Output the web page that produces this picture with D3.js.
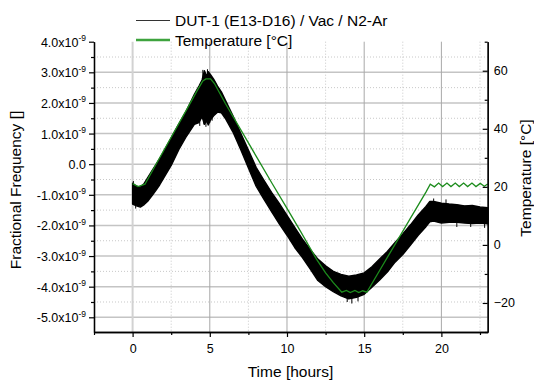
<!DOCTYPE html>
<html>
<head>
<meta charset="utf-8">
<script src="https://cdn.jsdelivr.net/npm/d3@7"></script>
<style>
  html, body { margin: 0; padding: 0; background: #fff; }
  svg { display: block; font-family: "Liberation Sans", Arial, sans-serif; }
</style>
</head>
<body>
<svg id="chart" width="534" height="386"></svg>
<script>
// ---------------- DATA ----------------
// Fractional frequency band (values in units of 1e-9): upper / lower envelope of the noisy trace
const freqTime = [0.0, 0.25, 0.5, 0.75, 1.0, 1.25, 1.5, 1.75, 2.0, 2.5, 3.0, 3.5, 4.0, 4.3, 4.5, 4.65, 4.8, 4.9, 5.05, 5.25, 5.5, 5.75, 6.0, 6.5, 7.0, 7.5, 8.0, 8.5, 9.0, 9.5, 10.0, 10.5, 11.0, 11.5, 12.0, 12.5, 13.0, 13.5, 14.0, 14.5, 15.0, 15.5, 16.0, 16.5, 17.0, 17.5, 18.0, 18.5, 19.0, 19.25, 19.5, 20.0, 20.5, 21.0, 21.5, 22.0, 22.5, 23.0];
const freqHigh = [-0.62, -0.72, -0.75, -0.63, -0.42, -0.22, -0.02, 0.18, 0.40, 0.86, 1.32, 1.76, 2.28, 2.55, 2.75, 3.05, 2.88, 3.02, 2.92, 2.78, 2.55, 2.36, 2.10, 1.58, 1.02, 0.46, -0.10, -0.52, -0.92, -1.28, -1.67, -2.06, -2.45, -2.78, -3.10, -3.32, -3.50, -3.60, -3.66, -3.62, -3.55, -3.35, -3.10, -2.85, -2.56, -2.28, -1.98, -1.66, -1.38, -1.22, -1.22, -1.27, -1.30, -1.32, -1.36, -1.35, -1.40, -1.42];
const freqLow  = [-1.30, -1.36, -1.40, -1.32, -1.20, -1.03, -0.86, -0.68, -0.46, -0.04, 0.48, 0.92, 1.30, 1.36, 1.55, 1.30, 1.42, 1.28, 1.45, 1.58, 1.70, 1.68, 1.50, 1.05, 0.48, -0.12, -0.72, -1.14, -1.55, -1.95, -2.32, -2.72, -3.05, -3.42, -3.80, -4.00, -4.16, -4.30, -4.40, -4.35, -4.25, -4.02, -3.78, -3.52, -3.20, -2.95, -2.64, -2.32, -2.04, -1.88, -1.86, -1.92, -1.90, -1.90, -1.92, -1.94, -1.92, -1.95];
// Individual noise spikes (time, extreme value in 1e-9)
const spikeTime = [0.05, 0.2, 4.35, 4.55, 4.62, 4.75, 4.85, 5.0, 5.15, 13.9, 14.2, 14.6, 19.5, 20.3, 21.0, 21.9, 22.8];
const spikeVal  = [-0.55, -1.45, 1.25, 3.08, 1.30, 1.22, 3.10, 1.35, 1.42, -4.50, -4.55, -4.48, -1.12, -1.15, -2.05, -2.05, -2.08];

// Temperature [°C]
const tempTime = [0, 0.35, 0.8, 1.5, 2.5, 3.5, 4.2, 4.55, 4.75, 5.05, 5.3, 6.0, 7.0, 8.0, 9.0, 10.0, 10.85, 11.9, 12.5, 13.0, 13.55, 13.85, 14.1, 14.4, 14.65, 14.9, 15.17, 16.0, 17.0, 18.0, 19.0, 19.28, 19.55, 19.82, 20.08, 20.36, 20.62, 20.9, 21.16, 21.44, 21.7, 21.98, 22.24, 22.52, 22.78, 23.0];
const tempVal  = [21.1, 20.1, 20.9, 27.6, 37.1, 46.6, 53.3, 56.5, 57.2, 57.2, 55.6, 48.8, 39.7, 30.6, 21.5, 12.6, 4.9, -4.8, -9.6, -13.0, -16.3, -15.7, -16.4, -15.7, -16.4, -15.8, -16.3, -8.8, 0.2, 9.2, 18.2, 20.9, 20.0, 21.3, 20.1, 21.3, 20.1, 21.3, 20.1, 21.3, 20.1, 21.3, 20.1, 21.2, 20.2, 21.0];

// Ticks
const xMajorTicks = [0, 5, 10, 15, 20];
const xMinorTicks = [-2.5, 2.5, 7.5, 12.5, 17.5, 22.5];
const yLeftMajorTicks = [4, 3, 2, 1, 0, -1, -2, -3, -4, -5];
const yLeftMinorTicks = [3.5, 2.5, 1.5, 0.5, -0.5, -1.5, -2.5, -3.5, -4.5];
const yRightMajorTicks = [60, 40, 20, 0, -20];
const yRightMinorTicks = [70, 50, 30, 10, -10, -30];

const seriesNames = ["DUT-1 (E13-D16) / Vac / N2-Ar", "Temperature [°C]"];
const xTitle = "Time [hours]";
const yLeftTitle = "Fractional Frequency []";
const yRightTitle = "Temperature [°C]";

// ---------------- LAYOUT ----------------
const L = 94, R = 487.7, T = 41.7, B = 332;
const svg = d3.select("#chart");

const x = d3.scaleLinear().domain([-2.5, 23]).range([L, R]);
const yL = d3.scaleLinear().domain([-5.48, 4.0]).range([B, T]);
const yR = d3.scaleLinear().domain([-30, 70]).range([B, T]);

const grid = svg.append("g");
// minor dotted grid
grid.selectAll(".vmin").data(xMinorTicks.filter(d => d > -2.5)).join("line")
  .attr("x1", d => x(d)).attr("x2", d => x(d)).attr("y1", T).attr("y2", B)
  .attr("stroke", "#c8c8c8").attr("stroke-width", 1).attr("stroke-dasharray", "1,2");
grid.selectAll(".hmin").data(yLeftMinorTicks).join("line")
  .attr("x1", L).attr("x2", R).attr("y1", d => yL(d)).attr("y2", d => yL(d))
  .attr("stroke", "#c8c8c8").attr("stroke-width", 1).attr("stroke-dasharray", "1,2");
// major grid
grid.selectAll(".hmaj").data(yLeftMajorTicks.filter(d => d < 4)).join("line")
  .attr("x1", L).attr("x2", R).attr("y1", d => yL(d)).attr("y2", d => yL(d))
  .attr("stroke", "#c4c4c4").attr("stroke-width", 1.5);
grid.selectAll(".vmaj").data(xMajorTicks).join("line")
  .attr("x1", d => x(d)).attr("x2", d => x(d)).attr("y1", T).attr("y2", B)
  .attr("stroke", d => d === 0 ? "#d2d2d2" : "#a8a8a8")
  .attr("stroke-width", d => d === 0 ? 2 : 1);

// ---------------- SERIES ----------------
const band = freqTime.map((t, i) => ({ t, hi: freqHigh[i], lo: freqLow[i] }));
svg.append("path").datum(band)
  .attr("d", d3.area().x(d => x(d.t)).y0(d => yL(d.lo)).y1(d => yL(d.hi)))
  .attr("fill", "#000").attr("stroke", "#000").attr("stroke-width", 1.4).attr("stroke-linejoin", "round");

// spikes: drawn from the band's middle to the spike extreme
const midAt = d3.scaleLinear().domain(freqTime).range(freqTime.map((t, i) => (freqHigh[i] + freqLow[i]) / 2));
svg.append("g").selectAll("line").data(spikeTime.map((t, i) => ({ t, v: spikeVal[i] }))).join("line")
  .attr("x1", d => x(d.t)).attr("x2", d => x(d.t))
  .attr("y1", d => yL(midAt(d.t))).attr("y2", d => yL(d.v))
  .attr("stroke", "#000").attr("stroke-width", 1);

const temp = tempTime.map((t, i) => ({ t, v: tempVal[i] }));
svg.append("path").datum(temp)
  .attr("d", d3.line().x(d => x(d.t)).y(d => yR(d.v)))
  .attr("fill", "none").attr("stroke", "#1c8c1c").attr("stroke-width", 1.3);

// ---------------- AXES ----------------
function styleAxis(g) {
  g.selectAll(".domain").attr("stroke", "#000").attr("stroke-width", 1.3);
  g.selectAll(".tick line").attr("stroke", "#000").attr("stroke-width", 1.2);
  g.selectAll("text").attr("fill", "#000").style("font-family", '"Liberation Sans", Arial, sans-serif');
}

// left
const gLmin = svg.append("g").attr("transform", `translate(${L},0)`)
  .call(d3.axisLeft(yL).tickValues(yLeftMinorTicks).tickSize(3).tickSizeOuter(0).tickFormat(""));
styleAxis(gLmin);
const gL = svg.append("g").attr("transform", `translate(${L},0)`)
  .call(d3.axisLeft(yL).tickValues(yLeftMajorTicks).tickSize(5).tickSizeOuter(0).tickPadding(3).tickFormat(""));
styleAxis(gL);
gL.selectAll(".tick").each(function(d) {
  const t = d3.select(this).select("text");
  t.attr("font-size", 12.5).attr("dy", "0.36em").attr("x", -8).attr("text-anchor", "end");
  if (d === 0) {
    t.text("0.0");
  } else {
    t.text(null);
    t.append("tspan").text(d.toFixed(1) + "x10");
    t.append("tspan").text("-9").attr("font-size", 8.5).attr("dy", "-0.65em");
  }
});

// bottom
const gBmin = svg.append("g").attr("transform", `translate(0,${B})`)
  .call(d3.axisBottom(x).tickValues(xMinorTicks).tickSize(3).tickSizeOuter(0).tickFormat(""));
styleAxis(gBmin);
const gB = svg.append("g").attr("transform", `translate(0,${B})`)
  .call(d3.axisBottom(x).tickValues(xMajorTicks).tickSize(5).tickSizeOuter(0).tickPadding(7).tickFormat(d3.format("d")));
styleAxis(gB);
gB.selectAll("text").attr("font-size", 12.5);

// right (ticks pointing inward)
const gRmin = svg.append("g").attr("transform", `translate(${R},0)`)
  .call(d3.axisRight(yR).tickValues(yRightMinorTicks).tickSize(-3).tickSizeOuter(0).tickFormat(""));
styleAxis(gRmin);
const gR = svg.append("g").attr("transform", `translate(${R},0)`)
  .call(d3.axisRight(yR).tickValues(yRightMajorTicks).tickSize(-5).tickSizeOuter(0).tickPadding(6).tickFormat(d3.format("d")));
styleAxis(gR);
gR.selectAll("text").attr("font-size", 12.5);

// ---------------- TITLES ----------------
svg.append("text").attr("x", 290.5).attr("y", 377).attr("text-anchor", "middle")
  .attr("font-size", 15.5).text(xTitle);
svg.append("text").attr("transform", "translate(20.5,190) rotate(-90)").attr("text-anchor", "middle")
  .attr("font-size", 15.5).text(yLeftTitle);
svg.append("text").attr("transform", "translate(531,178) rotate(-90)").attr("text-anchor", "middle")
  .attr("font-size", 15.5).text(yRightTitle);

// ---------------- LEGEND ----------------
const leg = svg.append("g");
const legColors = ["#333", "#3ea33e"];
const legWidths = [1.2, 2.5];
const legY = [20.5, 40];
seriesNames.forEach((name, i) => {
  leg.append("line").attr("x1", 136).attr("x2", 170).attr("y1", legY[i]).attr("y2", legY[i])
    .attr("stroke", legColors[i]).attr("stroke-width", legWidths[i]);
  leg.append("text").attr("x", 175).attr("y", legY[i] + 5.5).attr("font-size", 15.5).text(name);
});
</script>
</body>
</html>
